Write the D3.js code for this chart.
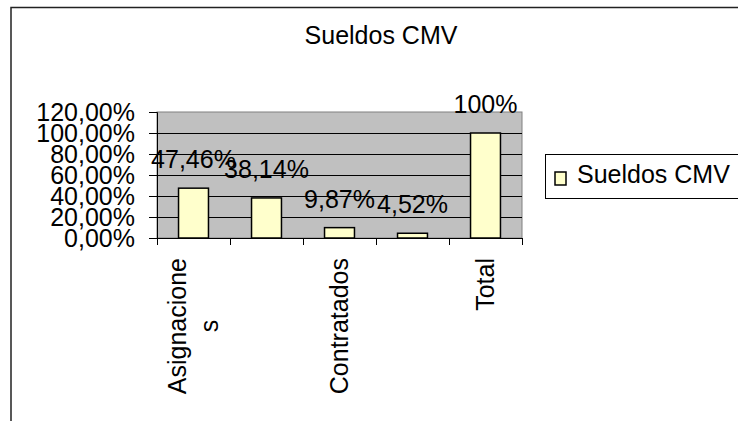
<!DOCTYPE html>
<html><head><meta charset="utf-8">
<script src="https://cdn.jsdelivr.net/npm/d3@7/dist/d3.min.js"></script>
<style>
html,body{margin:0;padding:0;background:#fff;}
svg{display:block;}
text{font-family:"Liberation Sans",Arial,sans-serif;fill:#000;}
</style></head>
<body>
<svg id="chart" width="738" height="421"></svg>
<script>
// ---- data ----
const categories = ["Asignaciones", "", "Contratados", "", "Total"];
const showCategoryLabel = [true, false, true, false, true];
const values = [0.4746, 0.3814, 0.0987, 0.0452, 1.00];
const valueLabels = ["47,46%", "38,14%", "9,87%", "4,52%", "100%"];
const yTicks = [0, 0.2, 0.4, 0.6, 0.8, 1.0, 1.2];
const seriesName = "Sueldos CMV";
const title = "Sueldos CMV";

// ---- layout ----
const svg = d3.select("#chart");
const W = 738, H = 421;
const plot = {left: 157, right: 522, top: 112, bottom: 238};
const FS = 25;

const loc = d3.formatLocale({decimal: ",", thousands: ".", grouping: [3], currency: ["", "€"], percent: "%"});
const yFmt = loc.format(".2%");

// outer frame (extends beyond image on right/bottom)
svg.append("rect").attr("x", 11).attr("y", 7.5).attr("width", 800).attr("height", 500)
  .attr("fill", "#fff").attr("stroke", "#222").attr("stroke-width", 1.5);

const idx = categories.map((d, i) => i);
const x = d3.scaleBand().domain(idx).range([plot.left, plot.right]).paddingInner(0.59).paddingOuter(0.295);
const step = x.step();
const y = d3.scaleLinear().domain([0, 1.2]).range([plot.bottom, plot.top]);

// plot area
svg.append("rect").attr("x", plot.left).attr("y", plot.top)
  .attr("width", plot.right - plot.left).attr("height", plot.bottom - plot.top)
  .attr("fill", "#c0c0c0").attr("stroke", "#808080").attr("stroke-width", 1);

// gridlines
svg.append("g").selectAll("line").data(yTicks.filter(t => t > 0 && t < 1.2)).join("line")
  .attr("x1", plot.left).attr("x2", plot.right)
  .attr("y1", d => Math.round(y(d)) + 0.5).attr("y2", d => Math.round(y(d)) + 0.5)
  .attr("stroke", "#000").attr("stroke-width", 1);

// y axis
const yAxis = d3.axisLeft(y).tickValues(yTicks).tickFormat(yFmt).tickSize(8).tickPadding(14);
const gy = svg.append("g").attr("transform", `translate(${plot.left},0)`).call(yAxis);
gy.select(".domain").attr("stroke", "#000");
gy.selectAll(".tick line").attr("stroke", "#000");
gy.selectAll("text").attr("font-size", FS).attr("font-family", '"Liberation Sans",Arial,sans-serif').attr("dy", "0.35em");

// x axis line and ticks at boundaries
svg.append("line").attr("x1", plot.left - 1).attr("x2", plot.right)
  .attr("y1", plot.bottom + 0.5).attr("y2", plot.bottom + 0.5).attr("stroke", "#000");
const bounds = idx.map(i => x(i) - (step - x.bandwidth()) / 2).concat([plot.right]);
svg.append("g").selectAll("line").data(bounds).join("line")
  .attr("x1", d => Math.round(d) + 0.5).attr("x2", d => Math.round(d) + 0.5)
  .attr("y1", plot.bottom).attr("y2", plot.bottom + 7).attr("stroke", "#000");

// bars
svg.append("g").selectAll("rect").data(values).join("rect")
  .attr("x", (d, i) => x(i)).attr("width", x.bandwidth())
  .attr("y", d => y(d)).attr("height", d => plot.bottom - y(d))
  .attr("fill", "#ffffcc").attr("stroke", "#000").attr("stroke-width", 1.5);

// value labels
svg.append("g").selectAll("text").data(values).join("text")
  .attr("x", (d, i) => x(i) + x.bandwidth() / 2).attr("y", d => y(d) - 20)
  .attr("text-anchor", "middle").attr("font-size", FS)
  .text((d, i) => valueLabels[i]);

// category labels (rotated, wrapped)
const measure = svg.append("text").attr("font-size", FS).attr("visibility", "hidden");
function wrap(str, maxW) {
  const lines = [];
  let cur = "";
  for (const ch of str) {
    measure.text(cur + ch);
    if (measure.node().getComputedTextLength() > maxW && cur.length) { lines.push(cur); cur = ch; }
    else cur += ch;
  }
  if (cur) lines.push(cur);
  return lines;
}
categories.forEach((c, i) => {
  if (!showCategoryLabel[i]) return;
  const lines = wrap(c, 140);
  const cx = x(i) + x.bandwidth() / 2;
  const lineH = 32;
  const blockCenter = cx - (lines.length - 1) * lineH / 2;
  measure.text(lines[0]);
  const firstLen = measure.node().getComputedTextLength();
  const topY = 258;
  lines.forEach((ln, k) => {
    const bx = blockCenter + k * lineH + 0.35 * FS;
    const g = svg.append("text").attr("font-size", FS)
      .attr("transform", `translate(${bx},${k === 0 ? topY : topY + firstLen / 2}) rotate(-90)`)
      .attr("text-anchor", k === 0 ? "end" : "middle").text(ln);
  });
});
measure.remove();

// title
svg.append("text").attr("x", 381).attr("y", 44).attr("text-anchor", "middle")
  .attr("font-size", FS).text(title);

// legend
svg.append("rect").attr("x", 545.5).attr("y", 154.5).attr("width", 250).attr("height", 44)
  .attr("fill", "#fff").attr("stroke", "#000").attr("stroke-width", 1);
svg.append("rect").attr("x", 555).attr("y", 172).attr("width", 11).attr("height", 13)
  .attr("fill", "#ffffcc").attr("stroke", "#000").attr("stroke-width", 1.5);
svg.append("text").attr("x", 577).attr("y", 183).attr("font-size", FS).text(seriesName);
</script>
</body></html>
